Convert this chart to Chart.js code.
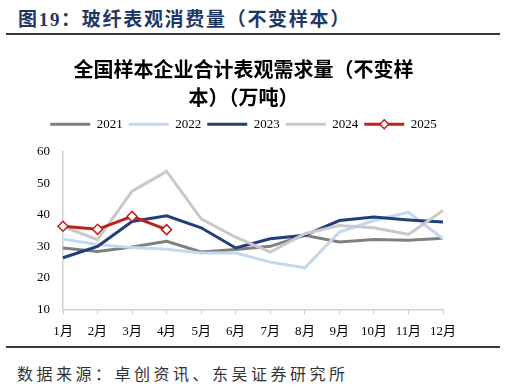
<!DOCTYPE html>
<html lang="zh-CN">
<head>
    <meta charset="UTF-8">
    <title>玻纤表观消费量</title>
    <script src="https://cdn.jsdelivr.net/npm/chart.js@4.4.0/dist/chart.umd.min.js"></script>
    <style>
        body {
            margin: 0;
            width: 505px;
            height: 388px;
            background: #fff;
            position: relative;
            overflow: hidden;
        }

        #cabecalho {
            position: absolute;
            left: 18px;
            top: 4px;
            font-family: "Liberation Serif", "Noto Sans CJK SC", serif;
            font-weight: bold;
            font-size: 19px;
            letter-spacing: 1.7px;
            color: #1f3763;
            white-space: nowrap;
        }

        .linha {
            position: absolute;
            left: 6px;
            width: 494px;
            height: 2px;
            background: #3a3a3a;
        }

        #grafico {
            position: absolute;
            left: 0;
            top: 45px;
            width: 505px;
            height: 305px;
        }

        #fonte {
            position: absolute;
            left: 17px;
            top: 361px;
            font-family: "Noto Sans CJK SC", sans-serif;
            font-size: 16px;
            letter-spacing: 3.5px;
            color: #333;
            white-space: nowrap;
        }
    </style>
</head>
<body>
    <div id="cabecalho">图19：玻纤表观消费量（不变样本）</div>
    <div class="linha" style="top:33px"></div>

    <div id="grafico">
        <canvas id="consumoChart"></canvas>
    </div>

    <div class="linha" style="top:346px"></div>
    <div id="fonte">数据来源：卓创资讯、东吴证券研究所</div>

    <script>
        // valores (万吨)
        const meses = ['1月', '2月', '3月', '4月', '5月', '6月', '7月', '8月', '9月', '10月', '11月', '12月'];
        const anos = ['2021', '2022', '2023', '2024', '2025'];
        const dados2021 = [29.5, 28.4, 29.8, 31.6, 28.2, 29.0, 30.0, 33.5, 31.4, 32.2, 31.9, 32.6];
        const dados2022 = [32.3, 30.6, 29.6, 29.1, 27.9, 27.9, 25.0, 23.2, 34.5, 38.2, 40.8, 32.4];
        const dados2023 = [26.4, 30.0, 37.9, 39.7, 35.9, 29.5, 32.4, 33.5, 38.2, 39.3, 38.4, 37.7];
        const dados2024 = [36.3, 32.1, 47.5, 53.8, 38.7, 32.9, 28.2, 34.0, 36.6, 35.9, 33.8, 41.4];
        const dados2025 = [36.4, 35.4, 39.5, 35.3];
        const ticksY = [10, 20, 30, 40, 50, 60];

        const cores = ['#808080', '#c3d7ef', '#203f7c', '#c9c9c9', '#c0201c'];
        const series = [dados2021, dados2022, dados2023, dados2024, dados2025];

        const datasets = series.map((d, i) => ({
            label: anos[i],
            data: d,
            borderColor: cores[i],
            backgroundColor: cores[i],
            borderWidth: 3,
            tension: 0,
            order: 4 - i,
            pointRadius: i === 4 ? 5 : 0,
            pointStyle: 'rectRot',
            pointBackgroundColor: '#fff',
            pointBorderColor: cores[i],
            pointBorderWidth: 1.5
        }));

        // espaço extra entre a legenda e o gráfico
        const espacoLegenda = {
            id: 'espacoLegenda',
            beforeLayout(chart) {
                const lg = chart.legend;
                if (!lg || lg._ajustado) return;
                const fitOriginal = lg.fit;
                lg.fit = function () {
                    fitOriginal.call(this);
                    this.height += 11;
                };
                lg._ajustado = true;
            },
            afterDraw(chart) {
                // losango do 2025 na legenda
                const lg = chart.legend;
                const box = lg.legendHitBoxes[4];
                if (!box) return;
                const ctx = chart.ctx;
                const cx = box.left + 20;
                const cy = box.top + box.height / 2;
                const r = 4.5;
                ctx.save();
                ctx.beginPath();
                ctx.moveTo(cx, cy - r);
                ctx.lineTo(cx + r, cy);
                ctx.lineTo(cx, cy + r);
                ctx.lineTo(cx - r, cy);
                ctx.closePath();
                ctx.fillStyle = '#fff';
                ctx.fill();
                ctx.lineWidth = 1.5;
                ctx.strokeStyle = cores[4];
                ctx.stroke();
                ctx.restore();
            }
        };

        const ctx = document.getElementById('consumoChart').getContext('2d');

        const consumoChart = new Chart(ctx, {
            type: 'line',
            data: {
                labels: meses,
                datasets: datasets
            },
            options: {
                responsive: true,
                maintainAspectRatio: false,
                animation: false,
                layout: {
                    padding: { left: 0, right: 18, top: 0, bottom: 2 }
                },
                plugins: {
                    title: {
                        display: true,
                        text: ['全国样本企业合计表观需求量（不变样', '本）（万吨）'],
                        color: '#000',
                        font: { family: 'Noto Sans CJK SC', size: 20, weight: 'bold', lineHeight: 1.42 },
                        padding: { top: 10, bottom: 0 }
                    },
                    legend: {
                        position: 'top',
                        labels: {
                            boxWidth: 40,
                            boxHeight: 3,
                            padding: 6,
                            color: '#000',
                            font: { family: 'Liberation Serif', size: 13 },
                            sort: (a, b) => a.datasetIndex - b.datasetIndex,
                            generateLabels: chart => Chart.defaults.plugins.legend.labels.generateLabels(chart)
                                .map(l => ({ ...l, lineWidth: 0, fillStyle: l.strokeStyle }))
                        }
                    },
                    tooltip: { enabled: false }
                },
                scales: {
                    x: {
                        offset: false,
                        grid: {
                            display: true,
                            drawOnChartArea: false,
                            drawTicks: true,
                            tickLength: 5,
                            color: '#d0d0d0'
                        },
                        border: { color: '#d0d0d0', width: 1.5 },
                        ticks: {
                            color: '#000',
                            padding: 9,
                            maxRotation: 0,
                            autoSkip: false,
                            font: { family: 'Liberation Serif', size: 13 }
                        }
                    },
                    y: {
                        min: 10,
                        max: 60,
                        afterFit: s => { s.width = 63; },
                        afterBuildTicks: s => { s.ticks = ticksY.map(v => ({ value: v })); },
                        grid: { display: false, drawTicks: false },
                        border: { color: '#d0d0d0', width: 1.5 },
                        ticks: {
                            color: '#000',
                            padding: 13,
                            font: { family: 'Liberation Serif', size: 13 }
                        }
                    },
                    // eixo vazio à direita só para reservar a margem
                    margemDireita: {
                        position: 'right',
                        display: true,
                        min: 0,
                        max: 1,
                        afterFit: s => { s.width = 44; },
                        grid: { display: false, drawTicks: false },
                        border: { display: false },
                        ticks: { display: false }
                    }
                }
            },
            plugins: [espacoLegenda]
        });
    </script>
</body>
</html>
